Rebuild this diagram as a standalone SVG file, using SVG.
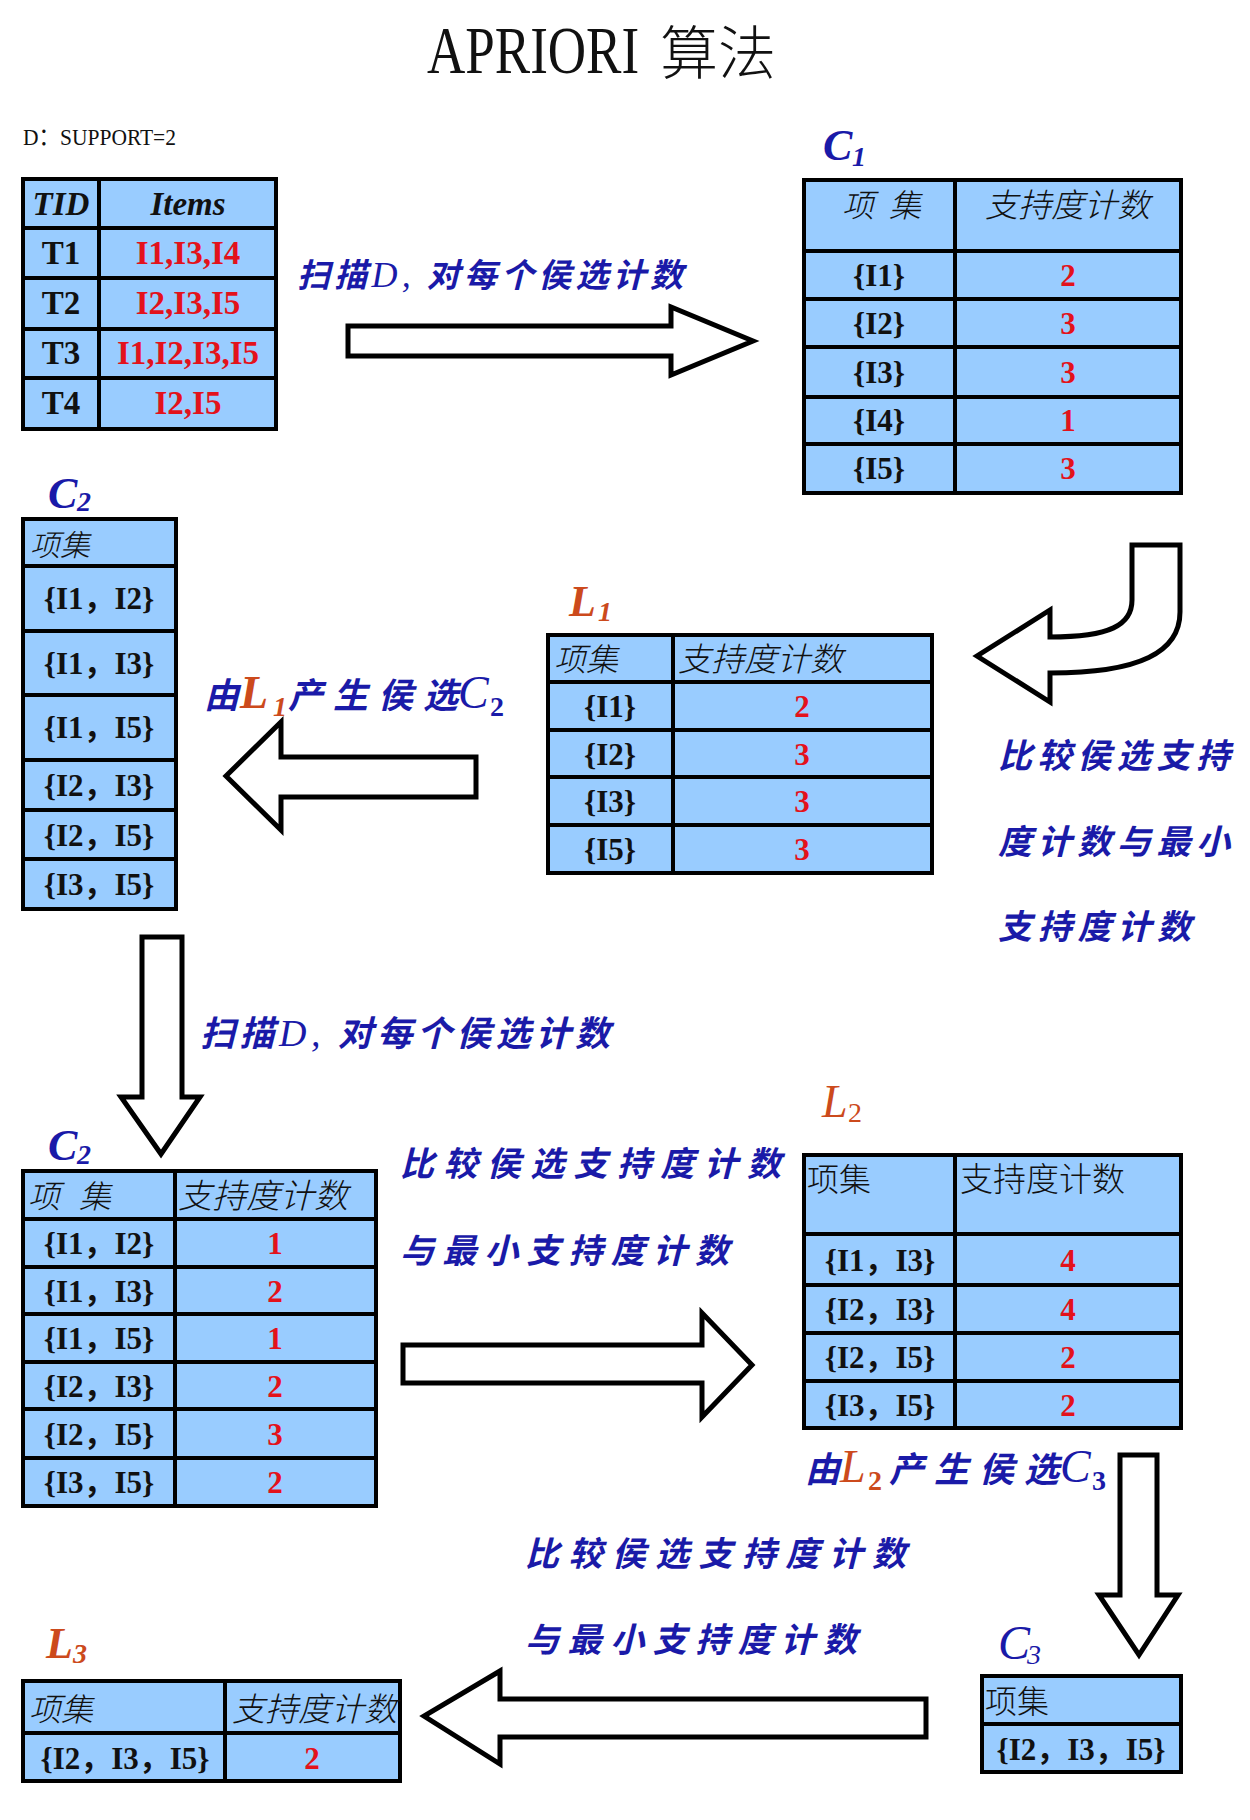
<svg xmlns="http://www.w3.org/2000/svg" width="1250" height="1820" viewBox="0 0 1250 1820">
<style>
.bg{fill:#fff}
.cell{fill:#99ccff;stroke:#000;stroke-width:4}
.ln{stroke:#000;stroke-width:4;fill:none}
.arrow{fill:#fff;stroke:#000;stroke-width:5;stroke-linejoin:miter}
.hd{font-family:"Noto Sans CJK SC",sans-serif;font-size:32px;font-weight:300;fill:#111}
.it{font-style:italic}
.v{font-family:"Liberation Serif","Noto Sans CJK SC",serif;font-weight:bold;font-size:31px;fill:#111;text-anchor:middle}
.th{font-family:"Liberation Serif",serif;font-weight:bold;font-style:italic;font-size:33px;fill:#111;text-anchor:middle}
.red{fill:#e3121b}
.cj{font-family:"Noto Sans CJK SC",sans-serif;font-weight:bold;font-style:italic;font-size:34px;fill:#1a1aa8}
.dd{font-family:"Liberation Serif",serif;font-weight:normal;font-size:36px}
.lab{font-family:"Liberation Serif",serif;font-weight:bold;font-style:italic;font-size:44px}
.sub{font-family:"Liberation Serif",serif;font-style:italic;font-size:28px}
.blue{fill:#1a1aa8}
.org{fill:#cc4a1c}
</style>
<rect class="bg" x="0" y="0" width="1250" height="1820"/>

<g id="title">
<text transform="translate(427,73) scale(0.78,1)" x="0" y="0" style="font-family:'Liberation Serif',serif;font-size:68px;fill:#111">APRIORI</text>
<text x="660" y="74" style="font-family:'Noto Sans CJK SC',sans-serif;font-size:58px;font-weight:300;fill:#111">算法</text>
</g>
<g id="support">
<text x="23" y="145" textLength="153" lengthAdjust="spacingAndGlyphs" style="font-family:'Liberation Serif','Noto Sans CJK SC',serif;font-size:24px;fill:#111">D：SUPPORT=2</text>
</g>

<g id="tableD">
<rect class="cell" x="23" y="179" width="253" height="250"/>
<path class="ln" d="M99 179V429M23 228H276M23 278H276M23 329H276M23 378H276"/>
<text class="th" x="61" y="215">TID</text>
<text class="th" x="188" y="215">Items</text>
<text class="v" x="61" y="264" style="font-size:33px">T1</text>
<text class="v red" x="188" y="264" style="font-size:33px">I1,I3,I4</text>
<text class="v" x="61" y="314" style="font-size:33px">T2</text>
<text class="v red" x="188" y="314" style="font-size:33px">I2,I3,I5</text>
<text class="v" x="61" y="364" style="font-size:33px">T3</text>
<text class="v red" x="188" y="364" style="font-size:33px">I1,I2,I3,I5</text>
<text class="v" x="61" y="414" style="font-size:33px">T4</text>
<text class="v red" x="188" y="414" style="font-size:33px">I2,I5</text>
</g>

<g id="C1">
<text class="lab blue" x="823" y="160">C<tspan class="sub" x="852" y="166" style="font-weight:bold">1</tspan></text>
<rect class="cell" x="804" y="180" width="377" height="313"/>
<path class="ln" d="M955 180V493M804 251H1181M804 299H1181M804 347H1181M804 397H1181M804 444H1181"/>
<text class="hd it" x="842" y="217" style="letter-spacing:4px" xml:space="preserve">项 集</text>
<text class="hd it" x="985" y="217" style="font-size:33px">支持度计数</text>
<text class="v" x="879" y="286">{I1}</text><text class="v red" x="1068" y="286">2</text>
<text class="v" x="879" y="334">{I2}</text><text class="v red" x="1068" y="334">3</text>
<text class="v" x="879" y="383">{I3}</text><text class="v red" x="1068" y="383">3</text>
<text class="v" x="879" y="431">{I4}</text><text class="v red" x="1068" y="431">1</text>
<text class="v" x="879" y="479">{I5}</text><text class="v red" x="1068" y="479">3</text>
</g>

<g id="C2a">
<text class="lab blue" x="48" y="508">C<tspan class="sub" x="77" y="511" style="font-weight:bold">2</tspan></text>
<rect class="cell" x="23" y="519" width="153" height="390"/>
<path class="ln" d="M23 566H176M23 631H176M23 695H176M23 760H176M23 810H176M23 859H176"/>
<text class="hd it" x="30" y="556" style="font-size:30px">项集</text>
<text class="v" x="99" y="609">{I1，I2}</text>
<text class="v" x="99" y="674">{I1，I3}</text>
<text class="v" x="99" y="738">{I1，I5}</text>
<text class="v" x="99" y="796">{I2，I3}</text>
<text class="v" x="99" y="846">{I2，I5}</text>
<text class="v" x="99" y="895">{I3，I5}</text>
</g>

<g id="L1">
<text class="lab org" x="569" y="616">L<tspan class="sub" x="598" y="621">1</tspan></text>
<rect class="cell" x="548" y="635" width="384" height="238"/>
<path class="ln" d="M673 635V873M548 682H932M548 730H932M548 777H932M548 825H932"/>
<text class="hd it" x="554" y="671">项集</text>
<text class="hd it" x="678" y="671" style="font-size:33px">支持度计数</text>
<text class="v" x="610" y="717">{I1}</text><text class="v red" x="802" y="717">2</text>
<text class="v" x="610" y="765">{I2}</text><text class="v red" x="802" y="765">3</text>
<text class="v" x="610" y="812">{I3}</text><text class="v red" x="802" y="812">3</text>
<text class="v" x="610" y="860">{I5}</text><text class="v red" x="802" y="860">3</text>
</g>

<g id="C2b">
<text class="lab blue" x="48" y="1160">C<tspan class="sub" x="77" y="1164" style="font-weight:bold">2</tspan></text>
<rect class="cell" x="23" y="1171" width="353" height="335"/>
<path class="ln" d="M175 1171V1506M23 1219H376M23 1267H376M23 1314H376M23 1362H376M23 1409H376M23 1458H376"/>
<text class="hd it" x="28" y="1208" style="letter-spacing:6px" xml:space="preserve">项 集</text>
<text class="hd it" x="178" y="1208" style="font-size:34px">支持度计数</text>
<text class="v" x="99" y="1254">{I1，I2}</text><text class="v red" x="275" y="1254">1</text>
<text class="v" x="99" y="1302">{I1，I3}</text><text class="v red" x="275" y="1302">2</text>
<text class="v" x="99" y="1349">{I1，I5}</text><text class="v red" x="275" y="1349">1</text>
<text class="v" x="99" y="1397">{I2，I3}</text><text class="v red" x="275" y="1397">2</text>
<text class="v" x="99" y="1445">{I2，I5}</text><text class="v red" x="275" y="1445">3</text>
<text class="v" x="99" y="1493">{I3，I5}</text><text class="v red" x="275" y="1493">2</text>
</g>

<g id="L2">
<text class="lab org" x="822" y="1117" style="font-weight:normal;font-size:46px">L<tspan class="sub" x="848" y="1122" style="font-style:normal">2</tspan></text>
<rect class="cell" x="804" y="1155" width="377" height="273"/>
<path class="ln" d="M955 1155V1428M804 1234H1181M804 1285H1181M804 1333H1181M804 1381H1181"/>
<text class="hd" x="807" y="1191">项集</text>
<text class="hd" x="960" y="1191" style="font-size:33px">支持度计数</text>
<text class="v" x="880" y="1271">{I1，I3}</text><text class="v red" x="1068" y="1271">4</text>
<text class="v" x="880" y="1320">{I2，I3}</text><text class="v red" x="1068" y="1320">4</text>
<text class="v" x="880" y="1368">{I2，I5}</text><text class="v red" x="1068" y="1368">2</text>
<text class="v" x="880" y="1416">{I3，I5}</text><text class="v red" x="1068" y="1416">2</text>
</g>

<g id="C3">
<text class="lab blue" x="998" y="1659" style="font-weight:normal;font-size:48px">C<tspan class="sub" x="1027" y="1664">3</tspan></text>
<rect class="cell" x="982" y="1676" width="199" height="96"/>
<path class="ln" d="M982 1724H1181"/>
<text class="hd" x="985" y="1713">项集</text>
<text class="v" x="1081" y="1760">{I2，I3，I5}</text>
</g>

<g id="L3">
<text class="lab org" x="46" y="1658">L<tspan class="sub" x="73" y="1663">3</tspan></text>
<rect class="cell" x="23" y="1681" width="377" height="100"/>
<path class="ln" d="M225 1681V1781M23 1733H400"/>
<text class="hd it" x="29" y="1721">项集</text>
<text class="hd it" x="232" y="1721" style="font-size:33px">支持度计数</text>
<text class="v" x="125" y="1769">{I2，I3，I5}</text><text class="v red" x="312" y="1769">2</text>
</g>

<g id="connectors">
<polygon class="arrow" points="348,326 671,326 671,307 753,341 671,375 671,356 348,356"/>
<path class="arrow" d="M1132 545H1180V612C1180 652 1140 673 1050 673V702L977 656L1050 610V637C1110 637 1132 625 1132 600Z"/>
<polygon class="arrow" points="476,757 281,757 281,722 226,776 281,830 281,797 476,797"/>
<polygon class="arrow" points="142,937 182,937 182,1097 200,1097 161,1154 121,1097 142,1097"/>
<polygon class="arrow" points="403,1345 702,1345 702,1313 752,1365 702,1417 702,1383 403,1383"/>
<polygon class="arrow" points="1120,1455 1157,1455 1157,1595 1178,1595 1139,1655 1099,1595 1120,1595"/>
<polygon class="arrow" points="926,1699 500,1699 500,1671 424,1716 500,1764 500,1737 926,1737"/>
</g>

<g id="labels">
<text class="cj" x="297" y="287" style="font-size:33px" textLength="386" lengthAdjust="spacing">扫描<tspan class="dd">D,</tspan> 对每个侯选计数</text>
<text class="cj" x="200" y="1046" style="font-size:35px" textLength="410" lengthAdjust="spacing">扫描<tspan class="dd" style="font-size:38px">D,</tspan> 对每个侯选计数</text>
<text class="cj" x="998" y="768" textLength="232" lengthAdjust="spacing">比较侯选支持</text>
<text class="cj" x="998" y="854" textLength="232" lengthAdjust="spacing">度计数与最小</text>
<text class="cj" x="998" y="939" textLength="193" lengthAdjust="spacing">支持度计数</text>
<text class="cj" x="400" y="1176" textLength="381" lengthAdjust="spacing">比较侯选支持度计数</text>
<text class="cj" x="400" y="1263" textLength="329" lengthAdjust="spacing">与最小支持度计数</text>
<text class="cj" x="525" y="1566" textLength="381" lengthAdjust="spacing">比较侯选支持度计数</text>
<text class="cj" x="525" y="1652" textLength="332" lengthAdjust="spacing">与最小支持度计数</text>
<text class="cj" x="204" y="708" style="font-size:35px">由<tspan class="lab org" x="240" style="font-size:46px">L</tspan><tspan class="sub org" x="273" y="716" style="font-size:28px">1</tspan><tspan x="288" y="708" textLength="170" lengthAdjust="spacing">产生侯选</tspan><tspan class="lab blue" x="458" style="font-size:46px;font-weight:normal">C</tspan><tspan class="sub blue" x="490" y="716" style="font-size:28px;font-style:normal">2</tspan></text>
<text class="cj" x="805" y="1482" style="font-size:35px">由<tspan class="lab org" x="840" style="font-size:46px;font-weight:normal">L</tspan><tspan class="sub org" x="868" y="1490" style="font-size:28px;font-style:normal">2</tspan><tspan x="889" y="1482" textLength="170" lengthAdjust="spacing">产生侯选</tspan><tspan class="lab blue" x="1060" style="font-size:46px;font-weight:normal">C</tspan><tspan class="sub blue" x="1092" y="1490" style="font-size:28px;font-style:normal">3</tspan></text>
</g>
</svg>
